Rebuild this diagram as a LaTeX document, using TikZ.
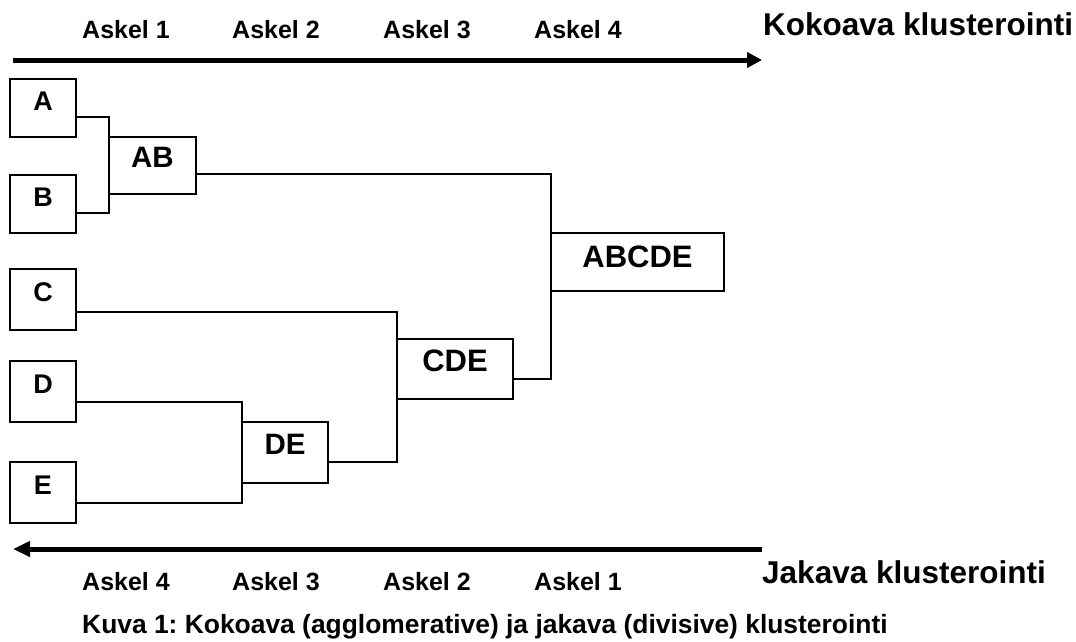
\documentclass[tikz,border=0pt]{standalone}
\usepackage{fontspec}
\setmainfont{Liberation Sans}
\usetikzlibrary{arrows.meta}
\frenchspacing
\begin{document}
\begin{tikzpicture}[x=1pt,y=-1pt,
  box/.style={draw, line width=1.8pt, inner sep=0pt, outer sep=0pt,
    font=\bfseries\fontsize{27}{30}\selectfont, text height=20pt, text depth=16pt},
  bigbox/.style={box, font=\bfseries\fontsize{29.5}{33}\selectfont},
  hugebox/.style={box, font=\bfseries\fontsize{31}{35}\selectfont},
  conn/.style={line width=1.8pt},
  steplabel/.style={anchor=base west, inner sep=0pt, font=\bfseries\fontsize{25}{30}\selectfont},
  titlelabel/.style={anchor=base west, inner sep=0pt, font=\bfseries\fontsize{31.5}{36}\selectfont},
  captionlabel/.style={anchor=base west, inner sep=0pt, font=\bfseries\fontsize{26.4}{30}\selectfont},
  bigarrow/.style={line width=5pt}]
\useasboundingbox (0,0) rectangle (1076,641);

% boxes
\node[box, minimum width=66pt, minimum height=58pt] (A) at (43,108) {A};
\node[box, minimum width=66pt, minimum height=58pt] (B) at (43,204) {B};
\node[box, minimum width=66pt, minimum height=61pt] (C) at (43,299.5) {C};
\node[box, minimum width=66pt, minimum height=61pt] (D) at (43,391.5) {D};
\node[box, minimum width=66pt, minimum height=61pt] (E) at (43,492.5) {E};
\node[bigbox, minimum width=87pt, minimum height=57pt] (AB) at (152.5,165.5) {AB};
\node[bigbox, minimum width=86pt, minimum height=61pt] (DE) at (285,452.5) {DE};
\node[hugebox, minimum width=116pt, minimum height=60pt] (CDE) at (455,369) {CDE};
\node[hugebox, minimum width=173pt, minimum height=58pt, text depth=10pt] (ABCDE) at (637.5,262) {ABCDE};

% connectors
\draw[conn] ([yshift=-9pt]A.east) -| (AB.west) |- ([yshift=-9pt]B.east);
\draw[conn] ([yshift=-10.5pt]D.east) -| (DE.west) |- ([yshift=-10.5pt]E.east);
\draw[conn] ([yshift=-12.5pt]C.east) -| (CDE.west) |- ([yshift=-9.5pt]DE.east);
\draw[conn] ([yshift=-8.5pt]AB.east) -| (ABCDE.west) |- ([yshift=-10pt]CDE.east);

% arrows
\coordinate (t1) at (13,60);
\coordinate (t2) at (762,60);
\coordinate (b1) at (762,549);
\coordinate (b2) at (13,549);
\draw[bigarrow, -{Triangle[length=15pt,width=15pt]}] (t1) -- (t2);
\draw[bigarrow, -{Triangle[length=17pt,width=15pt]}] (b1) -- (b2);

% top labels
\node[steplabel] (s1) at (82,38) {Askel 1};
\node[steplabel] (s2) at (232,38) {Askel 2};
\node[steplabel] (s3) at (383,38) {Askel 3};
\node[steplabel] (s4) at (534,38) {Askel 4};
\node[titlelabel] (kok) at (763,35) {Kokoava klusterointi};

% bottom labels
\node[steplabel] (r4) at (82,590) {Askel 4};
\node[steplabel] (r3) at (232,590) {Askel 3};
\node[steplabel] (r2) at (383,590) {Askel 2};
\node[steplabel] (r1) at (534,590) {Askel 1};
\node[titlelabel] (jak) at (762,583) {Jakava klusterointi};

\node[captionlabel] (cap) at (82,633) {Kuva 1: Kokoava (agglomerative) ja jakava (divisive) klusterointi};
\end{tikzpicture}
\end{document}
